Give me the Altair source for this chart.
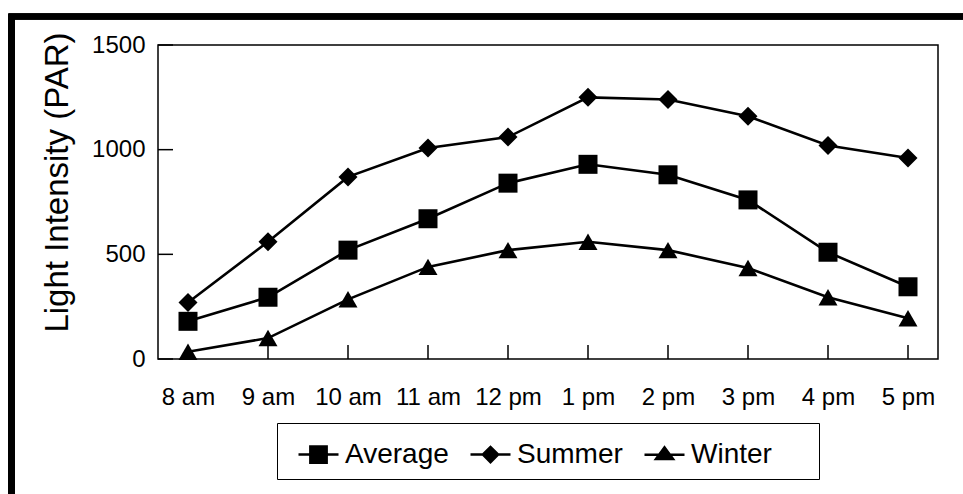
import altair as alt
import pandas as pd

hours = ["8 am", "9 am", "10 am", "11 am", "12 pm", "1 pm", "2 pm", "3 pm", "4 pm", "5 pm"]
series = ["Average", "Summer", "Winter"]
average = [180, 295, 520, 670, 840, 930, 880, 760, 510, 345]
summer = [270, 560, 870, 1008, 1060, 1250, 1240, 1160, 1020, 960]
winter = [35, 100, 285, 440, 520, 560, 520, 435, 295, 195]
y_ticks = [0, 500, 1000, 1500]

rows = []
for name, vals in zip(series, [average, summer, winter]):
    for h, v in zip(hours, vals):
        rows.append({"hour": h, "value": v, "series": name})
df = pd.DataFrame(rows)
df_hours = pd.DataFrame({"hour": hours})
df_yt = pd.DataFrame({"value": y_ticks})

FONT = "Liberation Sans"
W, H = 780, 314

x_axis = alt.Axis(title=None, labelAngle=0, domain=False, ticks=False, tickSize=0,
                  grid=False, labelFont=FONT, labelFontSize=24, labelColor="black",
                  labelPadding=26, labelOverlap=False)
y_axis = alt.Axis(title="Light Intensity (PAR)", values=y_ticks, format="d", domain=False,
                  ticks=False, tickSize=0, grid=False, labelFont=FONT, labelFontSize=24,
                  labelColor="black", labelPadding=13,
                  titleFont=FONT, titleFontSize=33, titleFontWeight="normal",
                  titleColor="black", titleAngle=-90, titleX=-101, titleY=137,
                  titleAlign="center", titleBaseline="middle")
x_scale = alt.Scale(type="point", padding=0.375)
y_scale = alt.Scale(domain=[0, 1500], nice=False)

x_enc = alt.X("hour:N", sort=hours, scale=x_scale, axis=x_axis)
y_enc = alt.Y("value:Q", scale=y_scale, axis=y_axis)

base = alt.Chart(df)

lines = base.mark_line(color="black", strokeWidth=2.6).encode(
    x=x_enc, y=y_enc, detail="series:N"
)

points = base.mark_point(filled=True, color="black", opacity=1).encode(
    x=x_enc, y=y_enc,
    shape=alt.Shape("series:N", scale=alt.Scale(domain=series, range=["square", "diamond", "triangle-up"]), legend=None),
    size=alt.Size("series:N", scale=alt.Scale(domain=series, range=[361, 361, 484]), legend=None),
)

# legend symbols: a short line with the marker on it (filled shapes only)
seg = "M-0.5,-0.065L1.5,-0.065L1.5,0.065L-0.5,0.065Z"
p_sq = seg + "M0.03,-0.47L0.97,-0.47L0.97,0.47L0.03,0.47Z"
p_di = seg + "M0.03,0L0.5,-0.47L0.97,0L0.5,0.47Z"
# last entry carries an empty (zero-area) point so the legend frame keeps its right margin
p_tr = seg + "M-0.05,0.28L0.5,-0.47L1.05,0.28ZM7.45,0L7.45,0Z"

legend_layer = base.mark_point(
    filled=True, color="black", opacity=0
).encode(
    x=x_enc, y=y_enc,
    shape=alt.Shape(
        "series:N",
        scale=alt.Scale(domain=series, range=[p_sq, p_di, p_tr]),
        legend=alt.Legend(
            title=None, orient="none", legendX=119, legendY=378, direction="horizontal",
            columns=3, strokeColor="black", fillColor="white", padding=10,
            symbolSize=1600, symbolStrokeWidth=2.5, symbolFillColor="black",
            symbolOpacity=1, labelFont=FONT,
            labelFontSize=28, labelColor="black", labelOffset=15, columnPadding=10,
        ),
    ),
)

x_ticks = alt.Chart(df_hours).mark_rule(color="black", strokeWidth=1.5).encode(
    x=x_enc, y=alt.value(H), y2=alt.value(H - 14),
)
y_tick_rules = alt.Chart(df_yt).mark_rule(color="black", strokeWidth=1.5).encode(
    y=y_enc, x=alt.value(0), x2=alt.value(15),
)

frame_left = alt.Chart(df_hours).mark_rule(color="black", strokeWidth=6).encode(
    x=alt.value(-146.5), y=alt.value(-31), y2=alt.value(H + 140)
)
frame_top = alt.Chart(df_hours).mark_rule(color="black", strokeWidth=5.5).encode(
    x=alt.value(-149.5), x2=alt.value(W + 30), y=alt.value(-28.5)
)

chart = alt.layer(
    frame_left, frame_top, x_ticks, y_tick_rules, lines, points, legend_layer
).resolve_scale(
    shape="independent", size="independent"
).properties(
    width=W, height=H,
    padding={"left": 158, "top": 45, "right": 25, "bottom": 135},
    autosize=alt.AutoSizeParams(type="none"),
    background="white",
).configure_view(
    stroke="black", strokeWidth=1.5
)

chart.save("out.html", embed_options={"renderer": "svg", "actions": False})
